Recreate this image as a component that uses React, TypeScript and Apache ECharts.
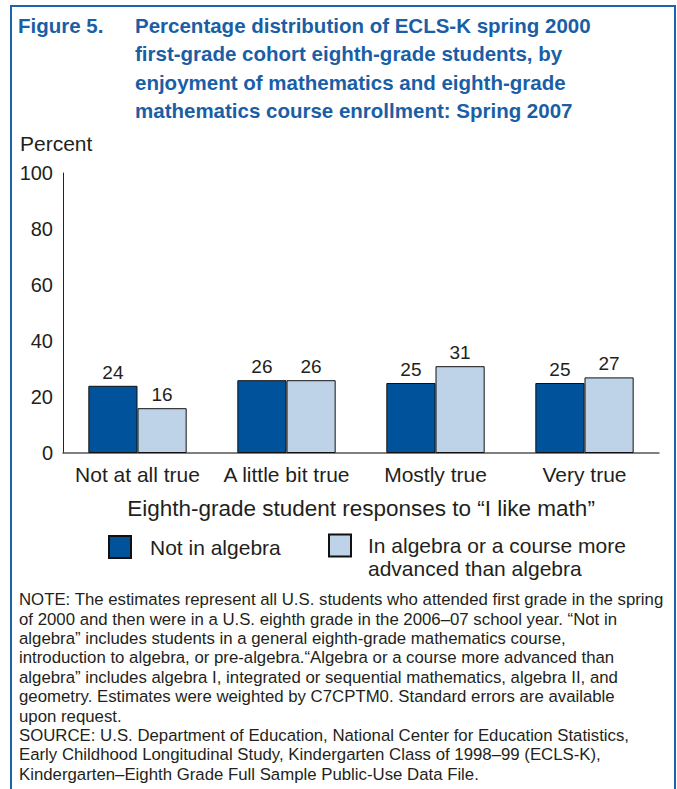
import React, { useEffect, useRef } from "react";
import * as echarts from "echarts";

const categories = ["Not at all true", "A little bit true", "Mostly true", "Very true"];
const notInAlgebra = [24, 26, 25, 25];
const inAlgebra = [16, 26, 31, 27];
const seriesNames = ["Not in algebra", "In algebra or a course more advanced than algebra"];
const yTicks = { min: 0, max: 100, interval: 20 };

const titleLabel = "Figure 5.";
const titleLines = [
  "Percentage distribution of ECLS-K spring 2000",
  "first-grade cohort eighth-grade students, by",
  "enjoyment of mathematics and eighth-grade",
  "mathematics course enrollment: Spring 2007",
];
const yAxisTitle = "Percent";
const xAxisTitle = "Eighth-grade student responses to \u201cI like math\u201d";
const legendSecondLines = ["In algebra or a course more", "advanced than algebra"];
const noteLines = [
  "NOTE: The estimates represent all U.S. students who attended first grade in the spring",
  "of 2000 and then were in a U.S. eighth grade in the 2006\u201307 school year. \u201cNot in",
  "algebra\u201d includes students in a general eighth-grade mathematics course,",
  "introduction to algebra, or pre-algebra.\u201cAlgebra or a course more advanced than",
  "algebra\u201d includes algebra I, integrated or sequential mathematics, algebra II, and",
  "geometry. Estimates were weighted by C7CPTM0. Standard errors are available",
  "upon request.",
  "SOURCE: U.S. Department of Education, National Center for Education Statistics,",
  "Early Childhood Longitudinal Study, Kindergarten Class of 1998\u201399 (ECLS-K),",
  "Kindergarten\u2013Eighth Grade Full Sample Public-Use Data File.",
];

const FONT = "Liberation Sans";
const TEXT = "#231f20";
const BLUE = "#1a5ea6";
const DARK = "#00529b";
const LIGHT = "#bed3e8";

export default function App() {
  const ref = useRef<HTMLDivElement>(null);
  useEffect(() => {
    if (!ref.current) return;
    const chart = echarts.init(ref.current, null, { renderer: "svg" });
    chart.setOption({
      animation: false,
      backgroundColor: "#ffffff",
      textStyle: { fontFamily: FONT, color: TEXT },
      grid: { left: 63, right: 18, top: 173, bottom: 789 - 453, containLabel: false },
      xAxis: {
        type: "category",
        data: categories,
        axisLine: { show: true, lineStyle: { color: "#555555", width: 1.5 } },
        axisTick: { show: false },
        axisLabel: { interval: 0, fontSize: 21, color: TEXT, margin: 11, fontFamily: FONT },
        name: xAxisTitle,
        nameLocation: "middle",
        nameGap: 44,
        nameTextStyle: { fontSize: 22.5, color: TEXT, fontFamily: FONT },
      },
      yAxis: {
        type: "value",
        min: yTicks.min,
        max: yTicks.max,
        interval: yTicks.interval,
        axisLine: { show: true, lineStyle: { color: "#222222", width: 1 } },
        axisTick: { show: false },
        splitLine: { show: false },
        axisLabel: { fontSize: 20, color: TEXT, margin: 10, fontFamily: FONT },
      },
      legend: [
        {
          data: [seriesNames[0]],
          left: 108,
          top: 535,
          padding: 0,
          itemWidth: 22,
          itemHeight: 22,
          icon: "rect",
          textStyle: { fontSize: 21, color: TEXT, fontFamily: FONT, padding: [0, 0, 0, 14] },
        },
        {
          data: [seriesNames[1]],
          left: 328,
          top: 511,
          padding: 0,
          itemWidth: 22,
          itemHeight: 22,
          icon: "rect",
          formatter: () => "\n" + legendSecondLines.join("\n"),
          textStyle: {
            fontSize: 21,
            color: TEXT,
            fontFamily: FONT,
            lineHeight: 23,
            padding: [0, 0, 0, 12],
          },
        },
      ],
      graphic: [
        {
          type: "rect",
          shape: { x: 11, y: 6, width: 664, height: 820 },
          style: { fill: "none", stroke: "#1c62ae", lineWidth: 2 },
          silent: true,
        },
        {
          type: "text",
          left: 18,
          top: 11,
          style: { text: titleLabel, fontSize: 20.5, fontWeight: "bold", fill: BLUE, fontFamily: FONT, lineHeight: 28 },
        },
        {
          type: "text",
          left: 135,
          top: 11,
          style: {
            text: titleLines.join("\n"),
            fontSize: 20.5,
            fontWeight: "bold",
            fill: BLUE,
            fontFamily: FONT,
            lineHeight: 28.5,
          },
        },
        {
          type: "text",
          left: 20,
          top: 133,
          style: { text: yAxisTitle, fontSize: 21, fill: TEXT, fontFamily: FONT },
        },
        {
          type: "text",
          left: 19,
          top: 590,
          style: {
            text: noteLines.join("\n"),
            fontSize: 16.8,
            fill: TEXT,
            fontFamily: FONT,
            lineHeight: 19.4,
          },
        },
      ],
      series: [
        {
          name: seriesNames[0],
          type: "bar",
          data: notInAlgebra,
          barGap: "0%",
          barCategoryGap: "34%",
          itemStyle: { color: DARK, borderColor: "#111111", borderWidth: 1 },
          label: { show: true, position: "top", fontSize: 19, color: TEXT, distance: 4, fontFamily: FONT },
        },
        {
          name: seriesNames[1],
          type: "bar",
          data: inAlgebra,
          barGap: "0%",
          barCategoryGap: "34%",
          itemStyle: { color: LIGHT, borderColor: "#111111", borderWidth: 1 },
          label: { show: true, position: "top", fontSize: 19, color: TEXT, distance: 4, fontFamily: FONT },
        },
      ],
    });
    return () => chart.dispose();
  }, []);
  return (
    <div
      ref={ref}
      style={{ position: "fixed", left: 0, top: 0, width: 677, height: 789, background: "#fff" }}
    />
  );
}
